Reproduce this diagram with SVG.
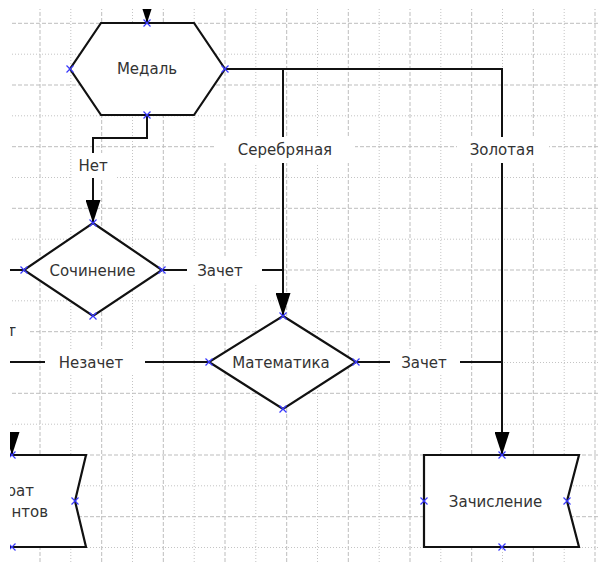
<svg xmlns="http://www.w3.org/2000/svg" xmlns:xlink="http://www.w3.org/1999/xlink" width="598" height="564" viewBox="0 0 598 564">
<style>
.gd{stroke:#bdbdbd;stroke-width:1;stroke-dasharray:4,2;fill:none}
.gt{stroke:#c4c4c4;stroke-width:1;stroke-dasharray:1,2;fill:none}
.sh{fill:#fff;stroke:#111;stroke-width:2.2;stroke-linejoin:miter}
.cn{fill:none;stroke:#111;stroke-width:2}
.lb{fill:#fff;stroke:none}
.tx{font-family:"DejaVu Sans",sans-serif;font-size:15px;fill:#333;text-anchor:middle}
.mk{stroke:#3838ff;stroke-width:1.2;fill:none}
</style>
<defs>
<marker id="ah" markerUnits="userSpaceOnUse" markerWidth="23" markerHeight="15" refX="23" refY="7.5" orient="auto" viewBox="0 0 23 15">
<path d="M0,0 L23,7.5 L0,15 z" fill="#000"/>
</marker>
<path id="x" class="mk" d="M-3.5,-3.5 L3.5,3.5 M-3.5,3.5 L3.5,-3.5"/>
<clipPath id="page"><rect x="10" y="9" width="588" height="555"/></clipPath>
</defs>
<rect width="598" height="564" fill="#fff"/>
<g clip-path="url(#page)">
<g id="grid">
<path class="gd" d="M40,0V564M101.7,0V564M163.3,0V564M225,0V564M286.7,0V564M348.3,0V564M410,0V564M471.7,0V564M533.3,0V564M595,0V564"/>
<path class="gt" d="M9.2,0V564M70.8,0V564M132.5,0V564M194.2,0V564M255.8,0V564M317.5,0V564M379.2,0V564M440.8,0V564M502.5,0V564M564.2,0V564"/>
<path class="gd" d="M0,23.3H598M0,85H598M0,146.7H598M0,208.3H598M0,270H598M0,331.7H598M0,393.3H598M0,455H598M0,516.7H598"/>
<path class="gt" d="M0,54.2H598M0,115.8H598M0,177.5H598M0,239.2H598M0,300.8H598M0,362.5H598M0,424.2H598M0,485.8H598M0,547.5H598"/>
</g>
<g id="connectors">
<path class="cn" d="M147,0V23" marker-end="url(#ah)"/>
<path class="cn" d="M225,69H502V455" marker-end="url(#ah)"/>
<path class="cn" d="M283,69V316" marker-end="url(#ah)"/>
<path class="cn" d="M147,115V138H93V223" marker-end="url(#ah)"/>
<path class="cn" d="M162,270H283"/>
<path class="cn" d="M356,362H502"/>
<path class="cn" d="M209,362H0"/>
<path class="cn" d="M0,270H24"/>
<path class="cn" d="M12,432V455" marker-end="url(#ah)"/>
<rect class="lb" x="72" y="153" width="43" height="25"/>
<text class="tx" x="93" y="170.5">Нет</text>
<rect class="lb" x="215" y="137" width="140" height="26"/>
<text class="tx" x="285" y="155">Серебряная</text>
<rect class="lb" x="457" y="137" width="92" height="26"/>
<text class="tx" x="502" y="155">Золотая</text>
<rect class="lb" x="187" y="257" width="75" height="26"/>
<text class="tx" x="220" y="275.5">Зачет</text>
<rect class="lb" x="390" y="349" width="70" height="26"/>
<text class="tx" x="424" y="367.5">Зачет</text>
<rect class="lb" x="45" y="349" width="100" height="26"/>
<text class="tx" x="91" y="367.5">Незачет</text>
<rect class="lb" x="0" y="318" width="30" height="26"/>
<text class="tx" x="16" y="336" style="text-anchor:end">т</text>
</g>
<g id="medal">
<path class="sh" d="M101,23H194L225,69L194,115H101L70,69Z"/>
<text class="tx" x="147" y="74">Медаль</text>
<use xlink:href="#x" x="147" y="23"/><use xlink:href="#x" x="70" y="69"/><use xlink:href="#x" x="225" y="69"/><use xlink:href="#x" x="147" y="115"/>
</g>
<g id="sochinenie">
<path class="sh" d="M93,223L162,270L93,316L24,270Z"/>
<text class="tx" x="92.5" y="275.5">Сочинение</text>
<use xlink:href="#x" x="93" y="223"/><use xlink:href="#x" x="24" y="270"/><use xlink:href="#x" x="162" y="270"/><use xlink:href="#x" x="93" y="316"/>
</g>
<g id="matematika">
<path class="sh" d="M283,316L356,362L283,409L209,362Z"/>
<text class="tx" x="281" y="367.5">Математика</text>
<use xlink:href="#x" x="283" y="316"/><use xlink:href="#x" x="209" y="362"/><use xlink:href="#x" x="356" y="362"/><use xlink:href="#x" x="283" y="409"/>
</g>
<g id="zachislenie">
<path class="sh" d="M424,455H579L567,501L579,547H424Z"/>
<text class="tx" x="495.5" y="506.5">Зачисление</text>
<use xlink:href="#x" x="502" y="455"/><use xlink:href="#x" x="424" y="501"/><use xlink:href="#x" x="567" y="501"/><use xlink:href="#x" x="502" y="547"/>
</g>
<g id="vozvrat">
<path class="sh" d="M-62,455H86L75,501L86,547H-62Z"/>
<text class="tx" x="34" y="496" style="text-anchor:end">рат</text>
<text class="tx" x="48" y="517" style="text-anchor:end">нтов</text>
<use xlink:href="#x" x="12" y="455"/><use xlink:href="#x" x="75" y="501"/><use xlink:href="#x" x="12" y="547"/>
</g>
</g>
</svg>
